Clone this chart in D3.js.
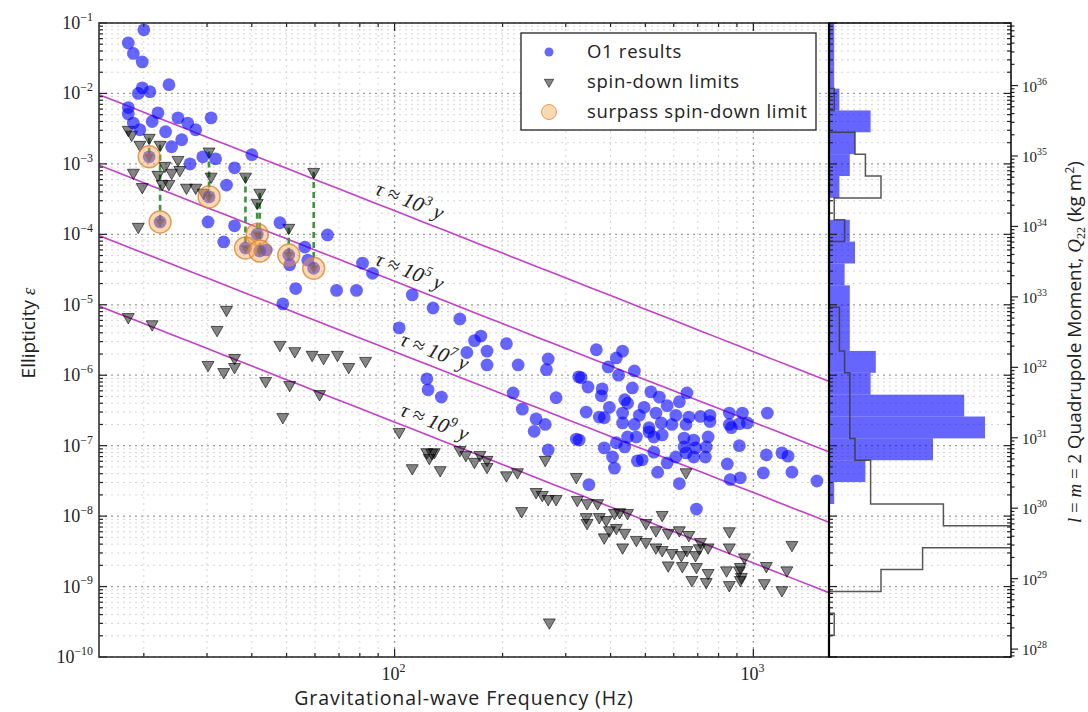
<!DOCTYPE html>
<html>
<head>
<meta charset="utf-8">
<script src="https://cdn.jsdelivr.net/npm/d3@7"></script>
<style>
  body { margin: 0; background: #fff; }
  svg { display: block; }
</style>
</head>
<body>
<svg id="chart" width="1088" height="712"></svg>
<script>
// ---------------- data ----------------
// O1 upper limits on ellipticity (GW frequency in Hz, ellipticity)
const o1Freq = [20.0,18.1,18.7,19.8,19.8,19.3,20.8,23.5,18.1,18.1,21.9,21.1,24.9,26.5,30.8,27.9,18.7,19.5,23.0,25.5,
  23.9,26.9,29.2,31.7,35.8,40.0,34.0,30.2,35.8,47.9,33.4,43.9,51.0,57.3,56.2,65.0,81.4,86.8,53.0,68.9,
  78.3,48.8,112,128,152,103,174,167,205,159,181,181,221,268,265,365,326,346,123,124,
  135,214,227,282,342,248,263,245,321,268,
  432,415,394,421,466,331,379,377,460,518,547,653,622,397,438,446,496,575,372,384,
  432,481,535,608,661,712,757,857,932,1094,432,466,512,554,593,649,757,857,914,962,
  512,557,446,472,528,641,682,748,868,327,415,438,384,641,690,739,914,649,682,735,
  405,528,608,475,490,410,575,541,846,1087,1201,1249,1066,1281,862,920,622,348,694,1504];
const o1Eps = [8.0e-2,5.2e-2,3.7e-2,2.8e-2,1.2e-2,1.0e-2,1.06e-2,1.33e-2,6.3e-3,5.1e-3,5.3e-3,4.0e-3,4.5e-3,3.8e-3,4.5e-3,3.05e-3,3.8e-3,3.05e-3,2.86e-3,2.2e-3,
  1.75e-3,1.0e-3,1.26e-3,1.18e-3,8.8e-4,1.35e-3,5.0e-4,1.5e-4,1.32e-4,1.46e-4,7.8e-5,6.0e-5,3.7e-5,4.3e-5,6.6e-5,9.8e-5,3.9e-5,2.8e-5,1.7e-5,1.6e-5,
  1.6e-5,1.03e-5,1.38e-5,9.0e-6,6.3e-6,4.7e-6,3.6e-6,3.1e-6,2.8e-6,2.1e-6,2.2e-6,1.4e-6,1.4e-6,1.7e-6,1.2e-6,2.3e-6,9.5e-7,6.8e-7,8.9e-7,6.2e-7,
  4.9e-7,5.6e-7,3.3e-7,4.8e-7,3.0e-7,2.4e-7,2.0e-7,1.6e-7,1.24e-7,8.7e-8,
  2.2e-6,1.76e-6,1.31e-6,1.0e-6,1.15e-6,9.2e-7,6.4e-7,5.1e-7,6.6e-7,5.8e-7,4.9e-7,5.6e-7,4.2e-7,3.5e-7,4.5e-7,4.0e-7,3.5e-7,3.7e-7,2.55e-7,2.5e-7,
  2.9e-7,2.7e-7,2.9e-7,2.7e-7,2.55e-7,2.6e-7,2.7e-7,2.9e-7,2.9e-7,2.9e-7,2.1e-7,2.0e-7,1.8e-7,2.1e-7,2.0e-7,2.0e-7,2.2e-7,2.0e-7,2.05e-7,2.1e-7,
  1.57e-7,1.42e-7,1.33e-7,1.33e-7,1.33e-7,1.28e-7,1.2e-7,1.33e-7,1.8e-7,1.2e-7,1.1e-7,9.6e-8,9.3e-8,9.6e-8,9.3e-8,9.6e-8,1.0e-7,7.9e-8,6.9e-8,6.9e-8,
  6.9e-8,8.1e-8,6.9e-8,6.1e-8,6.3e-8,4.8e-8,5.7e-8,4.2e-8,5.5e-8,7.4e-8,7.9e-8,7.1e-8,4.1e-8,4.2e-8,3.3e-8,3.5e-8,2.9e-8,2.8e-8,1.26e-8,3.15e-8];

// spin-down limits on ellipticity
const sdFreq = [18.1,18.5,19.5,18.7,19.8,21.9,22.9,23.9,24.9,25.2,23.5,22.5,26.3,27.9,29.3,30.8,19.3,
  18.1,21.1,34.0,32.0,30.2,33.4,35.8,35.8,43.7,47.9,52.7,51.0,48.8,58.9,63.4,69.3,74.5,83.0,61.8,
  103,123,127,129,125,152,158,167,173,181,181,112,134,205,220,263,321,
  248,258,268,282,226,323,344,368,649,342,344,372,389,410,424,446,397,415,438,384,432,472,502,535,557,593,630,653,707,748,
  557,502,535,579,622,661,579,634,694,712,690,674,739,748,857,857,842,857,914,926,944,1087,1073,1240,1201,1281,270,920,920];
const sdEps = [3.05e-3,2.6e-3,1.87e-3,7.5e-4,4.7e-4,7.0e-4,9.4e-4,7.5e-4,1.14e-3,8.2e-4,5.2e-4,5.2e-4,4.6e-4,4.6e-4,3.9e-4,6.6e-4,1.28e-4,
  6.7e-6,5.3e-6,8.5e-6,4.4e-6,1.4e-6,1.11e-6,1.76e-6,1.31e-6,8.3e-7,2.7e-6,2.2e-6,7.3e-7,2.55e-7,1.95e-6,1.76e-6,1.95e-6,1.31e-6,1.6e-6,5.4e-7,
  1.57e-7,8.1e-8,7.9e-8,8.1e-8,6.7e-8,8.7e-8,7.4e-8,5.9e-8,7.4e-8,6.3e-8,5.0e-8,4.8e-8,4.5e-8,3.8e-8,4.2e-8,6.3e-8,3.6e-8,
  2.2e-8,2.0e-8,1.75e-8,1.75e-8,1.18e-8,1.7e-8,1.53e-8,1.53e-8,4.2e-8,9.7e-9,8.0e-9,9.7e-9,8.8e-9,1.11e-8,1.14e-8,1.11e-8,6.3e-9,6.8e-9,5.8e-9,5.0e-9,3.6e-9,4.6e-9,4.3e-9,3.6e-9,3.3e-9,3.0e-9,2.8e-9,3.3e-9,3.5e-9,3.6e-9,
  1.04e-8,8.0e-9,6.3e-9,5.8e-9,6.3e-9,5.4e-9,2.0e-9,1.96e-9,1.9e-9,4.3e-9,2.8e-9,1.24e-9,1.16e-9,1.56e-9,6.1e-9,3.6e-9,1.7e-9,1.05e-9,1.7e-9,1.37e-9,2.6e-9,1.96e-9,1.12e-9,1.7e-9,8.9e-10,3.9e-9,3.1e-10,1.9e-9,1.24e-9];

// pulsars whose O1 limit is below the spin-down limit
const surpFreq = [20.7, 30.4, 22.2, 41.4, 38.4, 42.1, 50.7, 59.5];
const surpSdEps = [2.35e-3, 1.5e-3, 1.87e-3, 2.8e-4, 6.6e-4, 3.9e-4, 1.24e-4, 7.7e-4];
const surpO1Eps = [1.26e-3, 3.4e-4, 1.5e-4, 1.0e-4, 6.4e-5, 5.8e-5, 5.1e-5, 3.3e-5];

// lines of constant characteristic age
const tauYears = [1e3, 1e5, 1e7, 1e9];
const tauExp = ["3", "5", "7", "9"];
const tauLabelFreq = [86, 86, 101, 101];
const tauNorm = 68.3;   // eps = tauNorm / (f^2 sqrt(tau/yr))

// histograms of quadrupole moment: 29 log-spaced bins, counts from low to high Q22
const histBinCount = 29;
const histO1Counts = [0,0,0,0,0,0,0,1,7,20,30,26,8,9,4,4,4,3,5,4,0,2,4,5,8,2,1,1,1];
const histSdCounts = [0,1,0,10,18,40,22,8,8,5,4,4,4,3,2,2,0,0,0,3,1,10,7,5,0,1,0,0,0];
const histCountMax = 35;

const freqMajor = [100, 1000];
const epsMajorExp = [-1,-2,-3,-4,-5,-6,-7,-8,-9,-10];
const qMajorExp = [28,29,30,31,32,33,34,35,36];

// ---------------- layout ----------------
const M = { left: 99, right: 829, top: 23, bottom: 657 };
const histRight = 1011;
const QF = 1e38 * Math.sqrt(15 / (8 * Math.PI));

const svg = d3.select("#chart");
const x = d3.scaleLog().domain([15, 1625]).range([M.left, M.right]);
const y = d3.scaleLog().domain([1e-10, 1e-1]).range([M.bottom, M.top]);
const yQ = d3.scaleLog().domain([1e-10 * QF, 1e-1 * QF]).range([M.bottom, M.top]);
const xh = d3.scaleLinear().domain([0, histCountMax]).range([M.right, histRight]);

const defs = svg.append("defs");
defs.append("clipPath").attr("id", "clipMain").append("rect")
  .attr("x", M.left).attr("y", M.top).attr("width", M.right - M.left).attr("height", M.bottom - M.top);
defs.append("clipPath").attr("id", "clipHist").append("rect")
  .attr("x", M.right).attr("y", M.top).attr("width", histRight - M.right).attr("height", M.bottom - M.top);

// minor / major positions
const epsMinor = [], epsMajor = [];
for (let e = -10; e <= -1; e++) {
  epsMajor.push(Math.pow(10, e));
  if (e < -1) for (let m = 2; m <= 9; m++) epsMinor.push(m * Math.pow(10, e));
}
const freqMinor = [];
[10, 100, 1000].forEach(d => { for (let m = 2; m <= 9; m++) { const v = m * d; if (v >= 15 && v <= 1625) freqMinor.push(v); } });

// ---------------- grid ----------------
const grid = svg.append("g");
function hGrid(vals, x0, x1, color, width) {
  grid.selectAll(null).data(vals).enter().append("line")
    .attr("x1", x0).attr("x2", x1)
    .attr("y1", d => y(d)).attr("y2", d => y(d))
    .attr("stroke", color).attr("stroke-width", width).attr("stroke-dasharray", "2,4");
}
function vGrid(vals, color, width) {
  grid.selectAll(null).data(vals).enter().append("line")
    .attr("y1", M.top).attr("y2", M.bottom)
    .attr("x1", d => x(d)).attr("x2", d => x(d))
    .attr("stroke", color).attr("stroke-width", width).attr("stroke-dasharray", "2,4");
}
hGrid(epsMinor, M.left, M.right, "#d4d4d4", 1);
hGrid(epsMinor, M.right, histRight, "#d4d4d4", 1);
vGrid(freqMinor, "#d4d4d4", 1);
hGrid(epsMajor, M.left, M.right, "#9a9a9a", 1.3);
hGrid(epsMajor, M.right, histRight, "#9a9a9a", 1.3);
vGrid(freqMajor, "#9a9a9a", 1.3);

// ---------------- characteristic-age lines ----------------
const tauEps = (f, tau) => tauNorm / (f * f * Math.sqrt(tau));
const main = svg.append("g").attr("clip-path", "url(#clipMain)");
const fSpan = d3.range(0, 41).map(i => 15 * Math.pow(1625 / 15, i / 40));
const lineGen = tau => d3.line().x(f => x(f)).y(f => y(tauEps(f, tau)));
tauYears.forEach(tau => {
  main.append("path").attr("d", lineGen(tau)(fSpan))
    .attr("fill", "none").attr("stroke", "#c33fc8").attr("stroke-width", 1.6);
});

// ---------------- spin-down connectors ----------------
main.selectAll(null).data(surpFreq).enter().append("line")
  .attr("x1", d => x(d)).attr("x2", d => x(d))
  .attr("y1", (d, i) => y(surpSdEps[i])).attr("y2", (d, i) => y(surpO1Eps[i]))
  .attr("stroke", "#3c943c").attr("stroke-width", 2.6).attr("stroke-dasharray", "6,4");

// ---------------- markers ----------------
const tri = d3.symbol().type(d3.symbolTriangle).size(62);
function drawTriangles(g, fs, es) {
  g.selectAll(null).data(fs).enter().append("path")
    .attr("d", tri)
    .attr("transform", (d, i) => `translate(${x(d)},${y(es[i])}) rotate(180)`)
    .attr("fill", "#000").attr("fill-opacity", 0.48)
    .attr("stroke", "#000").attr("stroke-opacity", 0.6).attr("stroke-width", 1);
}
drawTriangles(main, sdFreq, sdEps);
drawTriangles(main, surpFreq, surpSdEps);

function drawDots(g, fs, es) {
  g.selectAll(null).data(fs).enter().append("circle")
    .attr("cx", d => x(d)).attr("cy", (d, i) => y(es[i])).attr("r", 6.4)
    .attr("fill", "#0000ff").attr("fill-opacity", 0.6);
}
drawDots(main, o1Freq, o1Eps);
drawDots(main, surpFreq, surpO1Eps);

// arrow heads where the connectors end
main.selectAll(null).data(surpFreq).enter().append("path")
  .attr("d", d3.symbol().type(d3.symbolTriangle).size(40))
  .attr("transform", (d, i) => `translate(${x(d)},${y(surpO1Eps[i])}) rotate(180)`)
  .attr("fill", "#333").attr("fill-opacity", 0.6);

main.selectAll(null).data(surpFreq).enter().append("circle")
  .attr("cx", d => x(d)).attr("cy", (d, i) => y(surpO1Eps[i])).attr("r", 11)
  .attr("fill", "#f7a54a").attr("fill-opacity", 0.42)
  .attr("stroke", "#d9822b").attr("stroke-opacity", 0.75).attr("stroke-width", 1.4);

// ---------------- tau labels ----------------
const slopeDeg = Math.atan2(y(tauEps(1000, 1e3)) - y(tauEps(100, 1e3)), x(1000) - x(100)) * 180 / Math.PI;
tauYears.forEach((tau, i) => {
  const f = tauLabelFreq[i];
  const t = svg.append("text")
    .attr("transform", `translate(${x(f)},${y(tauEps(f, tau))}) rotate(${slopeDeg})`)
    .attr("y", -8)
    .attr("font-family", "'Liberation Serif', serif").attr("font-style", "italic")
    .attr("font-size", 21).attr("fill", "#222");
  t.append("tspan").text("τ");
  t.append("tspan").attr("dx", 5).text("≈");
  t.append("tspan").attr("dx", 5).text("10");
  t.append("tspan").attr("dy", -9).attr("font-size", 14).text(tauExp[i]);
  t.append("tspan").attr("dy", 9).attr("dx", 5).text("y");
});

// ---------------- histograms ----------------
const hist = svg.append("g").attr("clip-path", "url(#clipHist)");
const qLo = 1e-10 * QF, qHi = 1e-1 * QF;
const edge = k => qLo * Math.pow(qHi / qLo, k / histBinCount);
hist.selectAll(null).data(histO1Counts).enter().append("rect")
  .attr("x", xh(0))
  .attr("y", (d, k) => yQ(edge(k + 1)))
  .attr("width", d => xh(d) - xh(0))
  .attr("height", (d, k) => yQ(edge(k)) - yQ(edge(k + 1)))
  .attr("fill", "#0000ff").attr("fill-opacity", 0.6);
let stepPts = [[xh(0), yQ(edge(0))]];
histSdCounts.forEach((c, k) => {
  stepPts.push([xh(c), yQ(edge(k))]);
  stepPts.push([xh(c), yQ(edge(k + 1))]);
});
stepPts.push([xh(0), yQ(edge(histSdCounts.length))]);
hist.append("path").attr("d", d3.line()(stepPts))
  .attr("fill", "none").attr("stroke", "#3a3a3a").attr("stroke-opacity", 0.85).attr("stroke-width", 1.5);

// ---------------- frames and ticks ----------------
const axes = svg.append("g").attr("stroke", "#222");
function tickLines(vals, pos, len, vertical, x0) {
  vals.forEach(v => {
    const p = pos(v);
    if (vertical) axes.append("line").attr("x1", p).attr("x2", p).attr("y1", x0).attr("y2", x0 + len).attr("stroke-width", 1.2);
    else axes.append("line").attr("y1", p).attr("y2", p).attr("x1", x0).attr("x2", x0 + len).attr("stroke-width", 1.2);
  });
}
tickLines(epsMajor, y, 8, false, M.left);
tickLines(epsMinor, y, 4, false, M.left);
tickLines(epsMajor, y, 8, false, M.right);
tickLines(epsMinor, y, 4, false, M.right);
tickLines(epsMajor, y, -7, false, histRight);
tickLines(epsMinor, y, -4, false, histRight);
tickLines(freqMajor, x, -8, true, M.bottom);
tickLines(freqMinor, x, -4, true, M.bottom);
tickLines(freqMajor, x, 8, true, M.top);
tickLines(freqMinor, x, 4, true, M.top);
const qMajor = qMajorExp.map(e => Math.pow(10, e));
const qMinor = [];
for (let e = 27; e <= 37; e++) for (let m = 2; m <= 9; m++) { const v = m * Math.pow(10, e); if (yQ(v) > M.top && yQ(v) < M.bottom) qMinor.push(v); }
tickLines(qMajor, yQ, 7, false, histRight);
tickLines(qMinor, yQ, 3.5, false, histRight);

svg.append("rect").attr("x", M.left).attr("y", M.top).attr("width", M.right - M.left).attr("height", M.bottom - M.top)
  .attr("fill", "none").attr("stroke", "#333").attr("stroke-width", 1.6);
svg.append("rect").attr("x", M.right).attr("y", M.top).attr("width", histRight - M.right).attr("height", M.bottom - M.top)
  .attr("fill", "none").attr("stroke", "#111").attr("stroke-width", 1.6);
svg.append("line").attr("x1", M.right).attr("x2", M.right).attr("y1", M.top).attr("y2", M.bottom)
  .attr("stroke", "#000").attr("stroke-width", 2.2);

// ---------------- tick labels ----------------
const serif = "'Liberation Serif', 'DejaVu Serif', serif";
function powLabel(g, px, py, exp, anchor, size) {
  const t = g.append("text").attr("x", px).attr("y", py)
    .attr("text-anchor", anchor).attr("font-family", serif).attr("font-size", size).attr("fill", "#222");
  t.append("tspan").text("10");
  t.append("tspan").attr("dy", -size * 0.45).attr("font-size", size * 0.66).text(exp);
  return t;
}
const labels = svg.append("g");
epsMajorExp.forEach(e => powLabel(labels, 93, y(Math.pow(10, e)) + 6, e < 0 ? "−" + (-e) : String(e), "end", 18));
[2, 3].forEach(e => powLabel(labels, x(Math.pow(10, e)) - 1, 680, String(e), "middle", 18));
qMajorExp.forEach(e => powLabel(labels, 1022, yQ(Math.pow(10, e)) + 6, String(e), "start", 15));

// ---------------- axis titles ----------------
const sans = "'Open Sans', Lato, sans-serif";
svg.append("text").attr("x", (M.left + M.right) / 2).attr("y", 705)
  .attr("text-anchor", "middle").attr("font-family", sans).attr("font-size", 19.5)
  .attr("letter-spacing", 0.9).attr("fill", "#222")
  .text("Gravitational-wave Frequency (Hz)");
const yl = svg.append("text").attr("transform", "translate(35,333) rotate(-90)")
  .attr("text-anchor", "middle").attr("font-family", sans).attr("font-size", 19).attr("fill", "#222");
yl.append("tspan").text("Ellipticity ");
yl.append("tspan").attr("font-family", serif).attr("font-style", "italic").text("ε");

const ql = svg.append("text").attr("transform", "translate(1081,342) rotate(-90)")
  .attr("text-anchor", "middle").attr("font-family", sans).attr("font-size", 19).attr("fill", "#222");
ql.append("tspan").attr("font-family", serif).attr("font-style", "italic").text("l");
ql.append("tspan").attr("font-family", serif).text(" = ");
ql.append("tspan").attr("font-family", serif).attr("font-style", "italic").text("m");
ql.append("tspan").attr("font-family", serif).text(" = 2 ");
ql.append("tspan").text("Quadrupole Moment, ");
ql.append("tspan").attr("font-family", serif).attr("font-style", "italic").text("Q");
ql.append("tspan").attr("font-family", serif).attr("font-size", 12).attr("dy", 4).text("22");
ql.append("tspan").attr("dy", -4).text(" (kg m");
ql.append("tspan").attr("font-size", 12).attr("dy", -7).text("2");
ql.append("tspan").attr("dy", 7).text(")");

// ---------------- legend ----------------
const lg = svg.append("g");
lg.append("rect").attr("x", 521).attr("y", 33).attr("width", 295).attr("height", 97)
  .attr("fill", "#fff").attr("stroke", "#222").attr("stroke-width", 1.3);
const lx = 549, ltx = 587, ly = [52, 82, 112];
lg.append("circle").attr("cx", lx).attr("cy", ly[0]).attr("r", 4.5).attr("fill", "#0000ff").attr("fill-opacity", 0.6);
lg.append("path").attr("d", d3.symbol().type(d3.symbolTriangle).size(38)).attr("transform", `translate(${lx},${ly[1]}) rotate(180)`)
  .attr("fill", "#000").attr("fill-opacity", 0.48).attr("stroke", "#000").attr("stroke-opacity", 0.55);
lg.append("circle").attr("cx", lx).attr("cy", ly[2]).attr("r", 7.5)
  .attr("fill", "#f7a54a").attr("fill-opacity", 0.42).attr("stroke", "#d9822b").attr("stroke-opacity", 0.75);
["O1 results", "spin-down limits", "surpass spin-down limit"].forEach((s, i) => {
  lg.append("text").attr("x", ltx).attr("y", ly[i] + 6).attr("font-family", sans).attr("font-size", 18.5)
    .attr("letter-spacing", 0.7).attr("fill", "#222").text(s);
});
</script>
</body>
</html>
